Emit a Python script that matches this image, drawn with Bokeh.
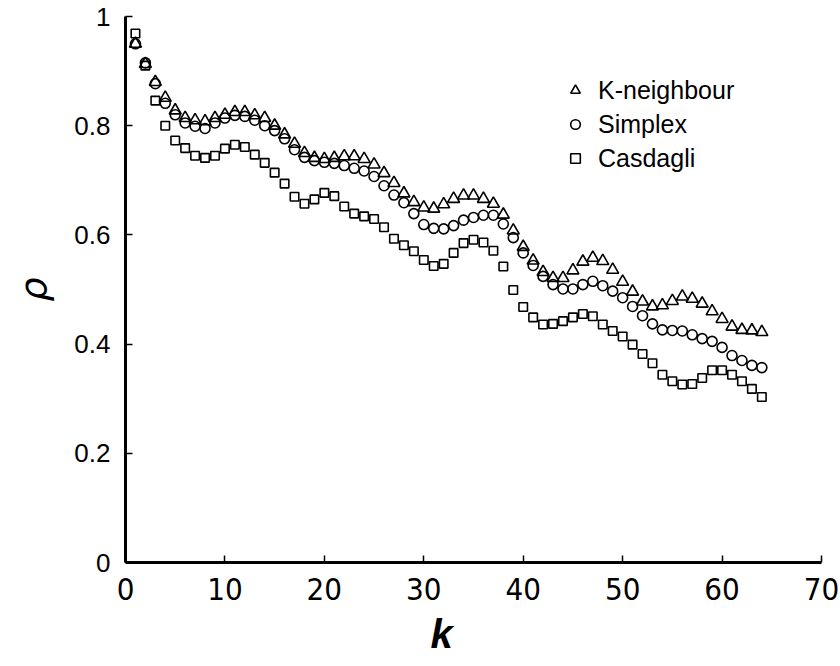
from bokeh.plotting import figure
from bokeh.models import Legend, LegendItem, FixedTicker, Title
from bokeh.embed import file_html
from bokeh.resources import INLINE

k = list(range(1, 65))

k_neighbour = [0.950, 0.913, 0.880, 0.851, 0.828, 0.814, 0.810, 0.808, 0.814, 0.820,
               0.825, 0.825, 0.819, 0.814, 0.800, 0.784, 0.767, 0.750, 0.741, 0.739,
               0.741, 0.744, 0.744, 0.739, 0.729, 0.713, 0.695, 0.676, 0.660, 0.650,
               0.648, 0.656, 0.666, 0.672, 0.672, 0.666, 0.657, 0.637, 0.608, 0.578,
               0.553, 0.532, 0.521, 0.521, 0.535, 0.551, 0.558, 0.552, 0.536, 0.514,
               0.496, 0.478, 0.469, 0.471, 0.479, 0.487, 0.483, 0.474, 0.460, 0.446,
               0.432, 0.426, 0.425, 0.422]

simplex = [0.950, 0.915, 0.877, 0.841, 0.820, 0.805, 0.799, 0.795, 0.805, 0.814,
           0.819, 0.817, 0.810, 0.800, 0.791, 0.776, 0.756, 0.742, 0.736, 0.733,
           0.731, 0.727, 0.722, 0.717, 0.707, 0.690, 0.673, 0.659, 0.639, 0.619,
           0.612, 0.611, 0.617, 0.627, 0.632, 0.636, 0.636, 0.620, 0.595, 0.567,
           0.544, 0.524, 0.509, 0.501, 0.501, 0.509, 0.515, 0.507, 0.497, 0.485,
           0.469, 0.452, 0.437, 0.426, 0.425, 0.424, 0.417, 0.410, 0.405, 0.394,
           0.379, 0.370, 0.361, 0.357]

casdagli = [0.969, 0.910, 0.846, 0.800, 0.773, 0.759, 0.745, 0.741, 0.745, 0.758,
            0.765, 0.761, 0.747, 0.732, 0.714, 0.694, 0.670, 0.657, 0.665, 0.677,
            0.671, 0.652, 0.639, 0.634, 0.629, 0.614, 0.593, 0.581, 0.570, 0.554,
            0.543, 0.547, 0.567, 0.585, 0.591, 0.586, 0.571, 0.542, 0.499, 0.468,
            0.449, 0.436, 0.437, 0.442, 0.449, 0.455, 0.451, 0.436, 0.424, 0.414,
            0.399, 0.382, 0.365, 0.344, 0.332, 0.326, 0.327, 0.338, 0.352, 0.352,
            0.344, 0.332, 0.318, 0.303]

x_ticks = [0, 10, 20, 30, 40, 50, 60, 70]
y_ticks = [0, 0.2, 0.4, 0.6, 0.8, 1]
series_labels = ["K-neighbour", "Simplex", "Casdagli"]

p = figure(width=840, height=666, x_range=(0, 70), y_range=(0, 1),
           output_backend="svg", toolbar_location=None,
           min_border_left=125, min_border_right=19,
           min_border_top=16, min_border_bottom=104)
p.background_fill_color = "white"
p.border_fill_color = "white"
p.outline_line_color = None
p.grid.visible = False

for ax in (p.xaxis[0], p.yaxis[0]):
    ax.axis_line_width = 3
    ax.axis_line_color = "black"
    ax.major_tick_in = 7
    ax.major_tick_out = 0
    ax.major_tick_line_width = 1.5
    ax.major_tick_line_color = "black"
    ax.minor_tick_line_color = None
    ax.major_label_text_color = "black"

p.xaxis.ticker = FixedTicker(ticks=x_ticks)
p.yaxis.ticker = FixedTicker(ticks=y_ticks)
p.yaxis.major_label_overrides = {0: "0", 1: "1"}

p.xaxis.major_label_text_font = "DejaVu Sans Condensed"
p.xaxis.major_label_text_font_size = "31px"
p.xaxis.major_label_standoff = 15

p.yaxis.major_label_text_font = "Liberation Sans"
p.yaxis.major_label_text_font_size = "26px"
p.yaxis.major_label_standoff = 15

p.yaxis.axis_label = "ρ"
p.yaxis.axis_label_text_font = "DejaVu Sans"
p.yaxis.axis_label_text_font_style = "italic"
p.yaxis.axis_label_text_font_size = "38px"
p.yaxis.axis_label_text_color = "black"
p.yaxis.axis_label_standoff = 16

k_title = Title(text="k", align="left", offset=305, standoff=14,
                text_font="Liberation Sans", text_font_style="bold italic",
                text_font_size="40px", text_color="black")
p.add_layout(k_title, "below")

r1 = p.scatter(k, k_neighbour, marker="triangle", size=12, fill_color=None,
               line_color="black", line_width=1.6)
r2 = p.scatter(k, simplex, marker="circle", size=10, fill_color=None,
               line_color="black", line_width=1.6)
r3 = p.scatter(k, casdagli, marker="square", size=8.5, fill_color=None,
               line_color="black", line_width=1.6)

legend = Legend(items=[LegendItem(label=series_labels[0], renderers=[r1]),
                       LegendItem(label=series_labels[1], renderers=[r2]),
                       LegendItem(label=series_labels[2], renderers=[r3])],
                location=(438, 389), padding=0, spacing=4,
                glyph_width=24, glyph_height=30, label_height=30,
                label_standoff=11, label_text_font="Liberation Sans",
                label_text_font_size="25px", label_text_color="black",
                border_line_color=None, background_fill_alpha=0)
p.add_layout(legend)

open("out.html", "w").write(file_html(p, INLINE))
